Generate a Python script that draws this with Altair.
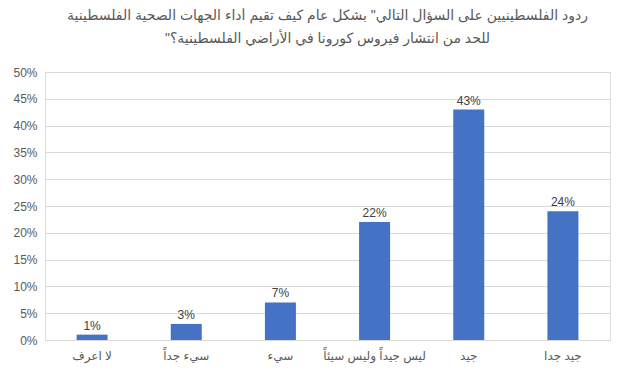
import altair as alt
import pandas as pd

categories = ["لا اعرف", "سيء جداً", "سيء", "ليس جيداً وليس سيئاً", "جيد", "جيد جدا"]
values = [0.01, 0.03, 0.07, 0.22, 0.43, 0.24]
labels = ["1%", "3%", "7%", "22%", "43%", "24%"]
title_lines = [
    'ردود الفلسطينيين على السؤال التالي" بشكل عام كيف تقيم أداء الجهات الصحية الفلسطينية',
    '"للحد من انتشار فيروس كورونا في الأراضي الفلسطينية؟',
]
y_ticks = [0, 0.05, 0.10, 0.15, 0.20, 0.25, 0.30, 0.35, 0.40, 0.45, 0.50]

df = pd.DataFrame({"cat": categories, "val": values, "lab": labels})

FONT = "Liberation Sans, DejaVu Sans, sans-serif"

base = alt.Chart(df).encode(
    x=alt.X("cat:N", sort=categories, title=None,
            axis=alt.Axis(labelAngle=0, ticks=False, domainColor="#d9d9d9",
                          labelColor="#595959", labelFontSize=12, labelPadding=10,
                          labelFont=FONT)),
    y=alt.Y("val:Q", title=None, scale=alt.Scale(domain=[0, 0.5], nice=False),
            axis=alt.Axis(format=".0%", values=y_ticks, labelOverlap=False,
                          tickCount=30, domain=False, ticks=False,
                          gridColor="#d9d9d9", labelColor="#595959",
                          labelFontSize=12, labelPadding=8, labelFont=FONT)),
)

bars = base.mark_bar(color="#4472C4", size=31)

text = base.mark_text(dy=-9, color="#404040", fontSize=12, font=FONT).encode(
    text="lab:N"
)

chart = (bars + text).properties(
    width=565, height=268,
    padding={"left": 37, "top": 64, "right": 22, "bottom": 26},
    autosize=alt.AutoSizeParams(type="none"),
    title=alt.TitleParams(title_lines, anchor="middle", fontSize=14,
                          fontWeight="normal", color="#595959", font=FONT,
                          offset=20, lineHeight=23),
).configure_view(stroke=None).configure(background="white")

chart.save("out.html", embed_options={"renderer": "svg", "actions": False})
